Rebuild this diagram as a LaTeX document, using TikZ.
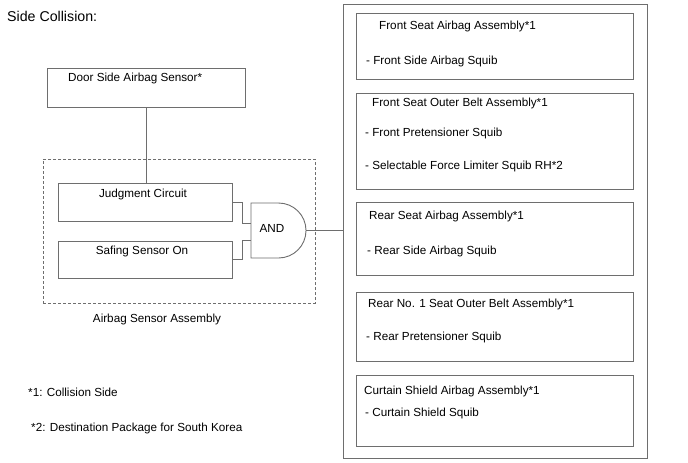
\documentclass[tikz,border=0pt]{standalone}
\usepackage{fontspec}
\setmainfont{Liberation Sans}
\definecolor{ln}{RGB}{110,110,110}
\tikzset{
  box/.style={draw=ln, line width=0.9pt, inner sep=0pt},
  txt/.style={anchor=base west, inner sep=0pt, font=\fontsize{11.7}{13}\selectfont},
  ctxt/.style={anchor=base, inner sep=0pt, font=\fontsize{11.7}{13}\selectfont},
  wire/.style={draw=ln, line width=0.9pt},
}
\begin{document}
\begin{tikzpicture}[x=1pt,y=-1pt]
\useasboundingbox (0,0) rectangle (688,463);
\fill[white] (0,0) rectangle (688,463);
% title
\node[anchor=base west, inner sep=0pt, font=\fontsize{14.2}{16}\selectfont] (title) at (7,21) {Side Collision:};
% left part
\node[box, minimum width=198pt, minimum height=39pt] (door) at (146,87.5) {};
\node[txt] (doort) at (68,81.5) {Door Side Airbag Sensor*};
\node[draw=ln, line width=0.8pt, dash pattern=on 3pt off 2pt, minimum width=272pt, minimum height=144pt, inner sep=0pt] (asm) at (179,231) {};
\node[ctxt] (asmt) at (157,322) {Airbag Sensor Assembly};
\node[box, minimum width=174pt, minimum height=38pt] (judge) at (145,202) {};
\node[ctxt] (judget) at (143,197) {Judgment Circuit};
\node[box, minimum width=174pt, minimum height=37pt] (safe) at (145,259.5) {};
\node[ctxt] (safet) at (142,254) {Safing Sensor On};
% AND gate
\draw[wire] (251,203) -- (278.5,203) arc[start angle=-90, end angle=90, radius=27.5] -- (251,258) -- cycle;
\node[inner sep=0pt, font=\fontsize{11.7}{13}\selectfont] (and) at (272,228) {AND};
\coordinate (in1) at (251,223);
\coordinate (in2) at (251,240);
\coordinate (out) at (306,230.5);
% right container
\node[box, minimum width=304pt, minimum height=454pt] (big) at (495,231) {};
% connectors
\draw[wire] (door.south) -- (door.south |- judge.north);
\draw[wire] (judge.east) -| (242,223) -- (in1);
\draw[wire] (safe.east) -| (242,240) -- (in2);
\draw[wire] (out) -- (out -| big.west);
% right inner boxes
\node[box, minimum width=277pt, minimum height=66pt] (b1) at (494.5,46) {};
\node[txt] (b1t) at (379,29) {Front Seat Airbag Assembly*1};
\node[txt] (b1a) at (366,64) {- Front Side Airbag Squib};
\node[box, minimum width=277pt, minimum height=96pt] (b2) at (494.5,141) {};
\node[txt] (b2t) at (372,106) {Front Seat Outer Belt Assembly*1};
\node[txt] (b2a) at (365,136) {- Front Pretensioner Squib};
\node[txt] (b2b) at (365,169) {- Selectable Force Limiter Squib RH*2};
\node[box, minimum width=277pt, minimum height=73pt] (b3) at (494.5,238.5) {};
\node[txt] (b3t) at (369,219) {Rear Seat Airbag Assembly*1};
\node[txt] (b3a) at (367,254) {- Rear Side Airbag Squib};
\node[box, minimum width=277pt, minimum height=69pt] (b4) at (494.5,326.5) {};
\node[txt] (b4t) at (368,307) {Rear No. 1 Seat Outer Belt Assembly*1};
\node[txt] (b4a) at (366,340) {- Rear Pretensioner Squib};
\node[box, minimum width=277pt, minimum height=71pt] (b5) at (494.5,410.5) {};
\node[txt] (b5t) at (364,394) {Curtain Shield Airbag Assembly*1};
\node[txt] (b5a) at (365,416) {- Curtain Shield Squib};
% footnotes
\node[txt] (f1) at (28,396) {*1: Collision Side};
\node[txt] (f2) at (31,431) {*2: Destination Package for South Korea};
\end{tikzpicture}
\end{document}
